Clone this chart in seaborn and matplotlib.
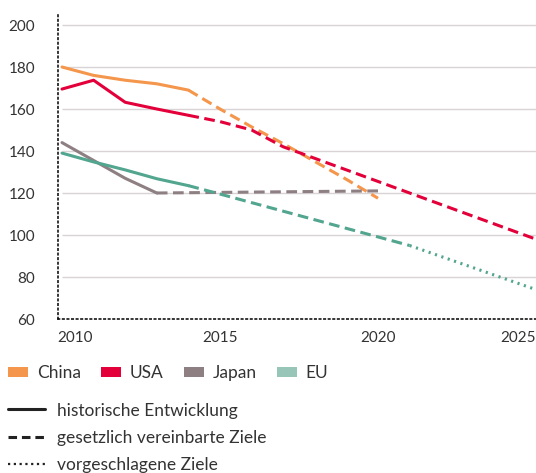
import numpy as np
import pandas as pd
import seaborn as sns
import matplotlib.pyplot as plt
import matplotlib.transforms as mtransforms
from matplotlib.patches import Patch
from matplotlib.lines import Line2D

# ---------------------------------------------------------
# Data (g CO2/km, by year)
# ---------------------------------------------------------
china_hist_years = [2010, 2011, 2012, 2013, 2014]
china_hist = [180, 176, 173.7, 172, 169]
china_legal_years = [2014, 2015, 2016, 2017, 2018, 2019, 2020]
china_legal = [169, 160, 151.5, 143.5, 135, 126.5, 117.5]

usa_hist_years = [2010, 2011, 2012, 2013, 2014]
usa_hist = [169.5, 173.7, 163.2, 160, 157]
usa_legal_years = [2014, 2015, 2016, 2017, 2025]
usa_legal = [157, 154, 150, 142, 98]

japan_hist_years = [2010, 2011, 2012, 2013]
japan_hist = [144, 135.5, 127, 120]
japan_legal_years = [2013, 2020]
japan_legal = [120, 121]

eu_hist_years = [2010, 2011, 2012, 2013, 2014]
eu_hist = [139, 134.8, 131, 126.8, 123.5]
eu_legal_years = [2014, 2015, 2021]
eu_legal = [123.5, 119.5, 95]
eu_proposed_years = [2021, 2025]
eu_proposed = [95, 74]

countries = ['China', 'USA', 'Japan', 'EU']
line_colors = {'China': '#f4964b', 'USA': '#e3003a', 'Japan': '#8e7f83', 'EU': '#52a58e'}
legend_colors = {'China': '#f4964b', 'USA': '#e3003a', 'Japan': '#8e7f83', 'EU': '#97c5b8'}

segments = {
    'China': [('hist', china_hist_years, china_hist), ('legal', china_legal_years, china_legal)],
    'USA': [('hist', usa_hist_years, usa_hist), ('legal', usa_legal_years, usa_legal)],
    'Japan': [('hist', japan_hist_years, japan_hist), ('legal', japan_legal_years, japan_legal)],
    'EU': [('hist', eu_hist_years, eu_hist), ('legal', eu_legal_years, eu_legal),
           ('proposed', eu_proposed_years, eu_proposed)],
}

rows = []
for c in countries:
    for seg, yrs, vals in segments[c]:
        for yr, v in zip(yrs, vals):
            rows.append({'year': yr, 'value': v, 'country': c, 'segment': seg})
df = pd.DataFrame(rows)

# ---------------------------------------------------------
# Plot
# ---------------------------------------------------------
sns.set_theme(style='white')
plt.rcParams['font.family'] = ['Lato', 'DejaVu Sans']
text_color = '#333333'

fig = plt.figure(figsize=(5.36, 4.73), dpi=100)
ax = fig.add_axes([58 / 536, 1 - 319 / 473, 1 - 58 / 536, (319 - 12) / 473])

dash_styles = {'hist': '', 'legal': (3.5, 1.8), 'proposed': (0.7, 1.5)}
sns.lineplot(data=df, x='year', y='value', hue='country', style='segment',
             palette=line_colors, dashes=dash_styles, linewidth=2.2,
             sort=False, estimator=None, legend=False, ax=ax, zorder=3)

ax.set_xlim(2010 - 4 / 31.6, 2025)
ax.set_ylim(60, 200 + 13 / 2.1)

# light gridlines starting at 2010
ax.hlines([80, 100, 120, 140, 160, 180, 200], 2010, 2025, color='#d9d3d5', lw=1.0, zorder=0)

for side in ['top', 'right']:
    ax.spines[side].set_visible(False)
for side in ['left', 'bottom']:
    ax.spines[side].set_linestyle((0, (1, 2)))
    ax.spines[side].set_color('black')
    ax.spines[side].set_linewidth(1.1)

ax.set_yticks([60, 80, 100, 120, 140, 160, 180, 200])
ax.set_xticks([2010, 2015, 2020, 2025])
ax.set_xticklabels(['2010', '2015', '2020', '2025'])
ax.tick_params(axis='y', length=0, pad=16.5, labelsize=11, labelcolor=text_color)
ax.tick_params(axis='x', length=0, pad=9, labelsize=11, labelcolor=text_color)
xl = ax.get_xticklabels()
xl[0].set_ha('left')
xl[0].set_transform(xl[0].get_transform() + mtransforms.ScaledTranslation(-5 / 100, 0, fig.dpi_scale_trans))
xl[-1].set_ha('right')
ax.set_xlabel('')
ax.set_ylabel('')

# legend: countries
fs = 12.5
country_handles = [Patch(facecolor=legend_colors[c], edgecolor='none', label=c) for c in countries]
leg1 = fig.legend(handles=country_handles, loc='center left', bbox_to_anchor=(8 / 536, 1 - 373 / 473),
                  ncol=4, frameon=False, fontsize=fs, handlelength=1.15, handleheight=0.57,
                  handletextpad=0.52, columnspacing=1.15, borderpad=0, borderaxespad=0)
for t in leg1.get_texts():
    t.set_color(text_color)

# legend: line styles
style_handles = [
    Line2D([], [], color='#222222', lw=2.2, label='historische Entwicklung'),
    Line2D([], [], color='#222222', lw=2.2, dashes=(2.8, 1.6), label='gesetzlich vereinbarte Ziele'),
    Line2D([], [], color='#222222', lw=1.6, dashes=(1, 1.6), label='vorgeschlagene Ziele'),
]
leg2 = fig.legend(handles=style_handles, loc='upper left', bbox_to_anchor=(8 / 536, 1 - 402.5 / 473),
                  ncol=1, frameon=False, fontsize=fs, handlelength=2.13,
                  handletextpad=0.69, labelspacing=0.65, borderpad=0, borderaxespad=0)
for t in leg2.get_texts():
    t.set_color(text_color)

plt.savefig('out.png', dpi=100)
